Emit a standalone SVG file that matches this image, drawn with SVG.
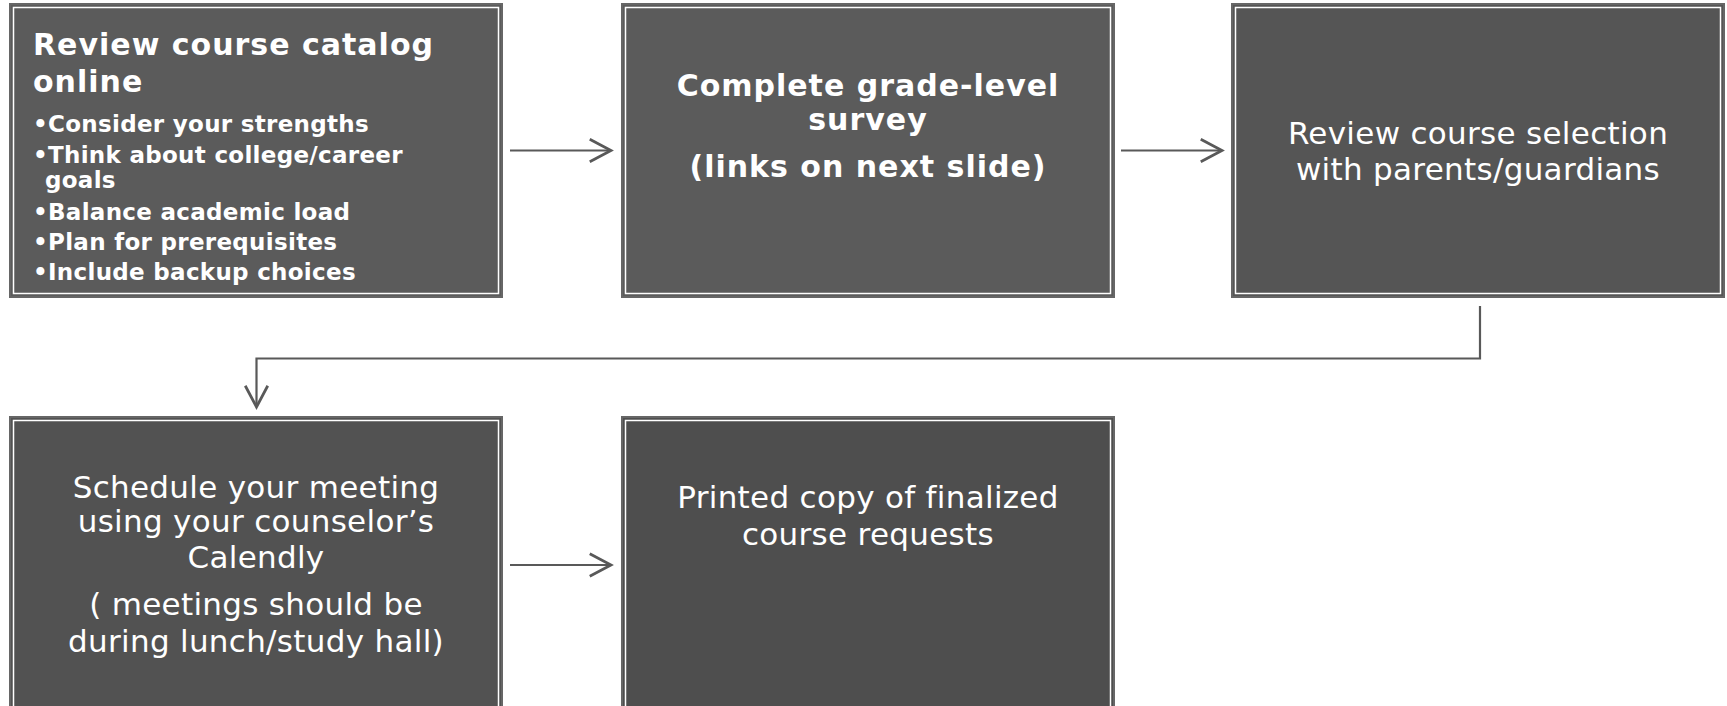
<svg xmlns="http://www.w3.org/2000/svg" width="1727" height="706" viewBox="0 0 1727 706">
  <style>
    .box { stroke: #666666; stroke-width: 2; }
    .inner { fill: none; stroke: #ffffff; stroke-width: 1.5; }
    .t { fill: #ffffff; font-family: "DejaVu Sans", Verdana, sans-serif; }
    .b { font-weight: bold; }
    .title { font-size: 30px; letter-spacing: 1px; }
    .bul { font-size: 23px; letter-spacing: 0.3px; }
    .reg { font-size: 31px; letter-spacing: 0.3px; text-anchor: middle; }
    .mid { text-anchor: middle; }
    .conn { fill: none; stroke: #595959; stroke-width: 2.2; }
  </style>
  <defs>
    <marker id="ah" markerUnits="userSpaceOnUse" markerWidth="30" markerHeight="30" viewBox="-20 -12 24 24" refX="0" refY="0" orient="auto" overflow="visible">
      <path d="M-17,-9 L0,0 L-17,9" fill="none" stroke="#595959" stroke-width="2.2"/>
    </marker>
  </defs>
  <rect width="1727" height="706" fill="#ffffff"/>

  <g id="node1">
    <rect class="box" x="10" y="4" width="492" height="293" fill="#5b5b5b"/>
    <rect class="inner" x="13.5" y="7.5" width="485" height="286"/>
    <text class="t b title" x="33" y="55">Review course catalog</text>
    <text class="t b title" x="33" y="91.5">online</text>
    <text class="t b bul" x="33" y="131.5">•Consider your strengths</text>
    <text class="t b bul" x="33" y="163">•Think about college/career</text>
    <text class="t b bul" x="45" y="188">goals</text>
    <text class="t b bul" x="33" y="219.5">•Balance academic load</text>
    <text class="t b bul" x="33" y="249.5">•Plan for prerequisites</text>
    <text class="t b bul" x="33" y="280">•Include backup choices</text>
  </g>

  <g id="node2">
    <rect class="box" x="622" y="4" width="492" height="293" fill="#5b5b5b"/>
    <rect class="inner" x="625.5" y="7.5" width="485" height="286"/>
    <text class="t b title mid" x="868" y="96">Complete grade-level</text>
    <text class="t b title mid" x="868" y="130">survey</text>
    <text class="t b title mid" x="868" y="176.5">(links on next slide)</text>
  </g>

  <g id="node3">
    <rect class="box" x="1232" y="4" width="492" height="293" fill="#555555"/>
    <rect class="inner" x="1235.5" y="7.5" width="485" height="286"/>
    <text class="t reg" x="1478" y="144">Review course selection</text>
    <text class="t reg" x="1478" y="180">with parents/guardians</text>
  </g>

  <g id="node4">
    <rect class="box" x="10" y="417" width="492" height="300" fill="#525252"/>
    <rect class="inner" x="13.5" y="420.5" width="485" height="300"/>
    <text class="t reg" x="256" y="498">Schedule your meeting</text>
    <text class="t reg" x="256" y="532">using your counselor’s</text>
    <text class="t reg" x="256" y="568">Calendly</text>
    <text class="t reg" x="256" y="615">( meetings should be</text>
    <text class="t reg" x="256" y="652">during lunch/study hall)</text>
  </g>

  <g id="node5">
    <rect class="box" x="622" y="417" width="492" height="300" fill="#4e4e4e"/>
    <rect class="inner" x="625.5" y="420.5" width="485" height="300"/>
    <text class="t reg" x="868" y="508">Printed copy of finalized</text>
    <text class="t reg" x="868" y="545">course requests</text>
  </g>

  <g id="connectors">
    <path class="conn" d="M510,150.5 H611" marker-end="url(#ah)"/>
    <path class="conn" d="M1121,150.5 H1222" marker-end="url(#ah)"/>
    <path class="conn" d="M1480,306 V358.5 H256.5 V407" marker-end="url(#ah)"/>
    <path class="conn" d="M510,565 H611" marker-end="url(#ah)"/>
  </g>
</svg>
